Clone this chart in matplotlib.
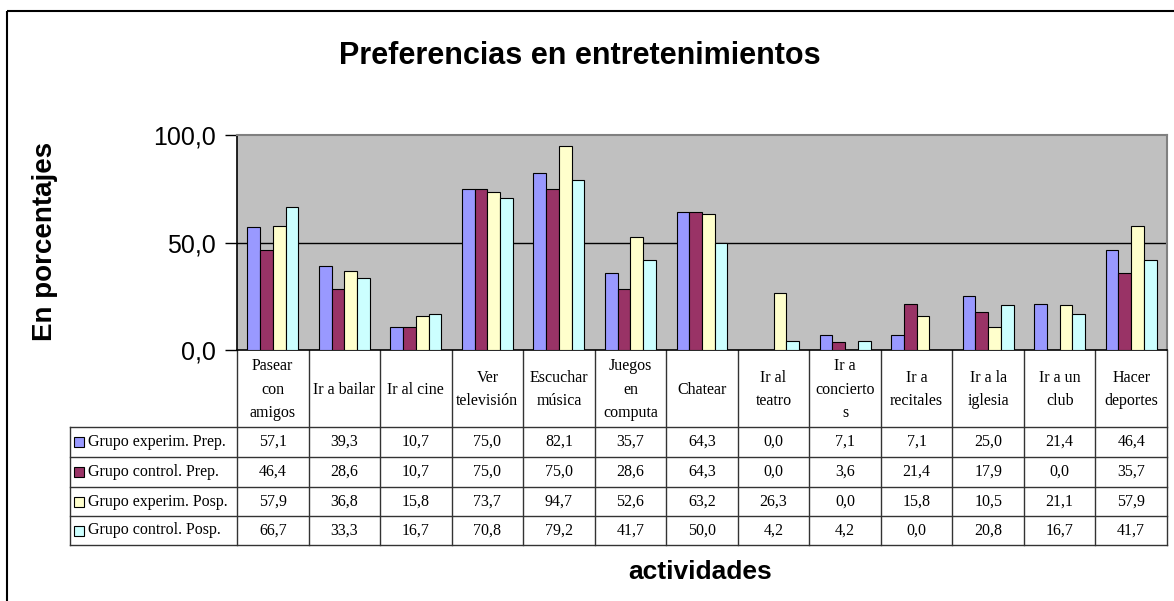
import matplotlib
matplotlib.use("Agg")
import matplotlib.pyplot as plt
from matplotlib.patches import Rectangle
from matplotlib.lines import Line2D
from matplotlib.transforms import blended_transform_factory
from matplotlib.ticker import FuncFormatter

categories = ["Pasear\ncon\namigos", "Ir a bailar", "Ir al cine", "Ver\ntelevisión",
              "Escuchar\nmúsica", "Juegos\nen\ncomputa", "Chatear", "Ir al\nteatro",
              "Ir a\nconcierto\ns", "Ir a\nrecitales", "Ir a la\niglesia", "Ir a un\nclub",
              "Hacer\ndeportes"]
series_names = ["Grupo experim. Prep.", "Grupo control. Prep.",
                "Grupo experim. Posp.", "Grupo control. Posp."]
exp_prep = [57.1, 39.3, 10.7, 75.0, 82.1, 35.7, 64.3, 0.0, 7.1, 7.1, 25.0, 21.4, 46.4]
ctl_prep = [46.4, 28.6, 10.7, 75.0, 75.0, 28.6, 64.3, 0.0, 3.6, 21.4, 17.9, 0.0, 35.7]
exp_posp = [57.9, 36.8, 15.8, 73.7, 94.7, 52.6, 63.2, 26.3, 0.0, 15.8, 10.5, 21.1, 57.9]
ctl_posp = [66.7, 33.3, 16.7, 70.8, 79.2, 41.7, 50.0, 4.2, 4.2, 0.0, 20.8, 16.7, 41.7]
series = [exp_prep, ctl_prep, exp_posp, ctl_posp]
colors = ["#9999FF", "#993366", "#FFFFCC", "#CCFFFF"]
yticks = [0, 50, 100]

W, H = 1174, 601
fig = plt.figure(figsize=(W / 100, H / 100), dpi=100)

# overlay axes in pixel coordinates (for table, border, labels)
ov = fig.add_axes([0, 0, 1, 1], zorder=0)
ov.set_xlim(0, W)
ov.set_ylim(H, 0)
ov.axis("off")

# outer chart border
ov.add_patch(Rectangle((7, 11), 1190, 620, fill=False, edgecolor="black", lw=1.5))

# main plot area
L, R, T, B = 237, 1167, 135, 350
ax = fig.add_axes([L / W, 1 - B / H, (R - L) / W, (B - T) / H], zorder=2)
ax.set_facecolor("#C0C0C0")
n = len(categories)
bw = 0.178
for j, (vals, c) in enumerate(zip(series, colors)):
    xs = [i + (j - 1.5) * bw for i in range(n)]
    ax.bar(xs, vals, width=bw, color=c, edgecolor="black", linewidth=0.8, zorder=3)
ax.set_xlim(-0.5, n - 0.5)
ax.set_ylim(0, 100)
ax.set_yticks(yticks)
ax.yaxis.set_major_formatter(FuncFormatter(lambda v, p: f"{v:.1f}".replace(".", ",")))
ax.tick_params(axis="y", direction="out", length=9, width=1, labelsize=18, pad=6)
for lab in ax.get_yticklabels():
    lab.set_fontfamily("Liberation Sans")
ax.set_xticks([])
ax.axhline(50, color="black", lw=1, zorder=2)
for s in ["top", "right"]:
    ax.spines[s].set_color("#808080")
    ax.spines[s].set_linewidth(1.5)
ax.spines["left"].set_color("black")
ax.spines["bottom"].set_color("black")
ax.spines["left"].set_linewidth(1.2)
ax.spines["bottom"].set_linewidth(1.2)

# table
tr = blended_transform_factory(ax.transData, ov.transData)
row_y = [350, 427, 457, 487, 516, 545]
lc = "#333333"
tfont = dict(family="Liberation Serif", fontsize=11.5)
# vertical lines
for i in range(n + 1):
    ov.add_line(Line2D([i - 0.5, i - 0.5], [row_y[0], row_y[-1]], color=lc, lw=1, transform=tr))
ov.add_line(Line2D([70, 70], [row_y[1], row_y[-1]], color=lc, lw=1))
# horizontal lines
for y in row_y[1:]:
    ov.add_line(Line2D([70, R], [y, y], color=lc, lw=1))
# header texts
for i, cat in enumerate(categories):
    ov.text(i, (row_y[0] + row_y[1]) / 2 + 1, cat, transform=tr, ha="center", va="center",
            linespacing=1.62, **tfont)
# data rows
for r, (name, vals, c) in enumerate(zip(series_names, series, colors)):
    yc = (row_y[r + 1] + row_y[r + 2]) / 2
    ov.add_patch(Rectangle((74, yc - 5), 10, 10, facecolor=c, edgecolor="black", lw=0.8))
    ov.text(88, yc, name, ha="left", va="center", **tfont)
    for i, v in enumerate(vals):
        ov.text(i, yc, f"{v:.1f}".replace(".", ","), transform=tr, ha="center",
                va="center", **tfont)

# titles
ov.text(580, 56, "Preferencias en entretenimientos", ha="center", va="center",
        family="Liberation Sans", fontweight="bold", fontsize=22)
ov.text(45, 241, "En porcentajes", ha="center", va="center", rotation=90,
        family="Liberation Sans", fontweight="bold", fontsize=20)
ov.text(700, 572, "actividades", ha="center", va="center",
        family="Liberation Sans", fontweight="bold", fontsize=19)

fig.savefig("out.png", dpi=100)
